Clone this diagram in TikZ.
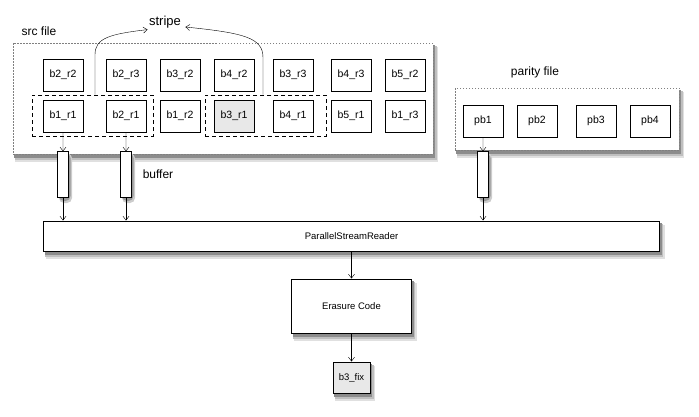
\documentclass[tikz,border=0pt]{standalone}
\usepackage{fontspec}
\setmainfont{Liberation Sans}
\usetikzlibrary{shapes.geometric,arrows.meta}

\begin{document}
\begin{tikzpicture}[x=1pt, y=-1pt,
        >={Straight Barb[length=4pt,width=6pt]},
        file/.style={draw=gray, dash pattern=on 1.5pt off 1.5pt, fill=white, inner sep=0pt},
        blk/.style={draw, line width=0.8pt, fill=white, minimum width=40pt, minimum height=32pt, inner sep=0pt, font=\fontsize{10.5}{12}\selectfont},
        grp/.style={draw, dash pattern=on 4pt off 3pt, line width=0.8pt, inner sep=0pt},
        buf/.style={cylinder, shape border rotate=90, aspect=6, draw, line width=0.8pt, fill=white, minimum width=11pt, minimum height=46pt, inner sep=0pt},
        box/.style={draw, line width=1pt, fill=white, inner sep=0pt, font=\fontsize{9.5}{11}\selectfont},
        lbl/.style={font=\fontsize{12}{14}\selectfont},
        shd/.style={fill=black!#1}]
    \useasboundingbox (0,0) rectangle (699,416);
    % shadows
    \foreach \a/\b/\c/\d in {13/43/433/154, 455/88/679/150, 43.5/221/659.5/251, 291.5/279/411.5/333, 333/362/370/393} {
        \fill[shd=12] (\a+2,\b+4) rectangle (\c+5,\d+8);
        \fill[shd=25] (\a+1.5,\b+3) rectangle (\c+3.5,\d+6);
        \fill[shd=45] (\a+1,\b+2) rectangle (\c+2,\d+4);
    }
    \foreach \x in {63,126,483} {
        \fill[shd=20, rounded corners=5pt] (\x-4,153) rectangle (\x+9,203);
        \fill[shd=40, rounded corners=5pt] (\x-4,153) rectangle (\x+7.5,201);
    }
    % files
    \node[file, minimum width=420pt, minimum height=111pt] (src) at (223,98.5) {};
    \node[lbl] (srclbl) at (39,31) {src file};
    \node[file, minimum width=224pt, minimum height=62pt] (par) at (567,119) {};
    \node[lbl] (parlbl) at (535,72) {parity file};
    % blocks of the source file
    \foreach \x/\n/\t in {63/b2r2/b2\_r2, 126/b2r3/b2\_r3, 180/b3r2/b3\_r2, 234/b4r2/b4\_r2,
                          293/b3r3/b3\_r3, 351/b4r3/b4\_r3, 405/b5r2/b5\_r2}
        \node[blk] (\n) at (\x,75) {\t};
    \foreach \x/\n/\t in {63/b1r1/b1\_r1, 126/b2r1/b2\_r1, 180/b1r2/b1\_r2,
                          293/b4r1/b4\_r1, 351/b5r1/b5\_r1, 405/b1r3/b1\_r3}
        \node[blk] (\n) at (\x,116) {\t};
    \node[blk, fill=gray!18] (b3r1) at (234,116) {b3\_r1};
    % parity blocks
    \foreach \x/\n in {483/pb1, 537/pb2, 596/pb3, 650/pb4}
        \node[blk] (\n) at (\x,121) {\n};
    % stripes
    \node[grp, minimum width=121pt, minimum height=41pt] (g1) at (92.5,115.5) {};
    \node[grp, minimum width=121pt, minimum height=41pt] (g2) at (265.5,115.5) {};
    \node[lbl, font=\fontsize{13}{15}\selectfont] (stripe) at (165,22) {stripe};
    \draw[->] ([xshift=2.5pt]g1.north) -- ++(0,-40) .. controls (95,38) and (110,34) .. ([shift={(2,-2)}]stripe.south west);
    \draw[->] ([xshift=-2.5pt]g2.north) -- ++(0,-37) .. controls (263,38) and (245,33) .. ([shift={(1,5)}]stripe.east);
    % buffers
    \node[buf] (c1) at (63,175) {};
    \node[buf] (c2) at (126,175) {};
    \node[buf] (c3) at (483,175) {};
    \node[lbl] (buflbl) at (158,174) {buffer};
    % reader and decoder
    \node[box, minimum width=616pt, minimum height=30pt] (psr) at (351.5,236) {ParallelStreamReader};
    \node[box, minimum width=120pt, minimum height=54pt] (ec) at (351.5,306) {Erasure Code};
    \node[box, fill=gray!18, minimum width=37pt, minimum height=31pt] (fix) at (351.5,377.5) {b3\_fix};
    % connectors
    \draw[->] (b1r1) -- (c1);
    \draw[->] (b2r1) -- (c2);
    \draw[->] (pb1) -- (c3);
    \draw[->] (c1) -- (c1 |- psr.north);
    \draw[->] (c2) -- (c2 |- psr.north);
    \draw[->] (c3) -- (c3 |- psr.north);
    \draw[->] (psr) -- (ec);
    \draw[->] (ec) -- (fix);
\end{tikzpicture}
\end{document}
